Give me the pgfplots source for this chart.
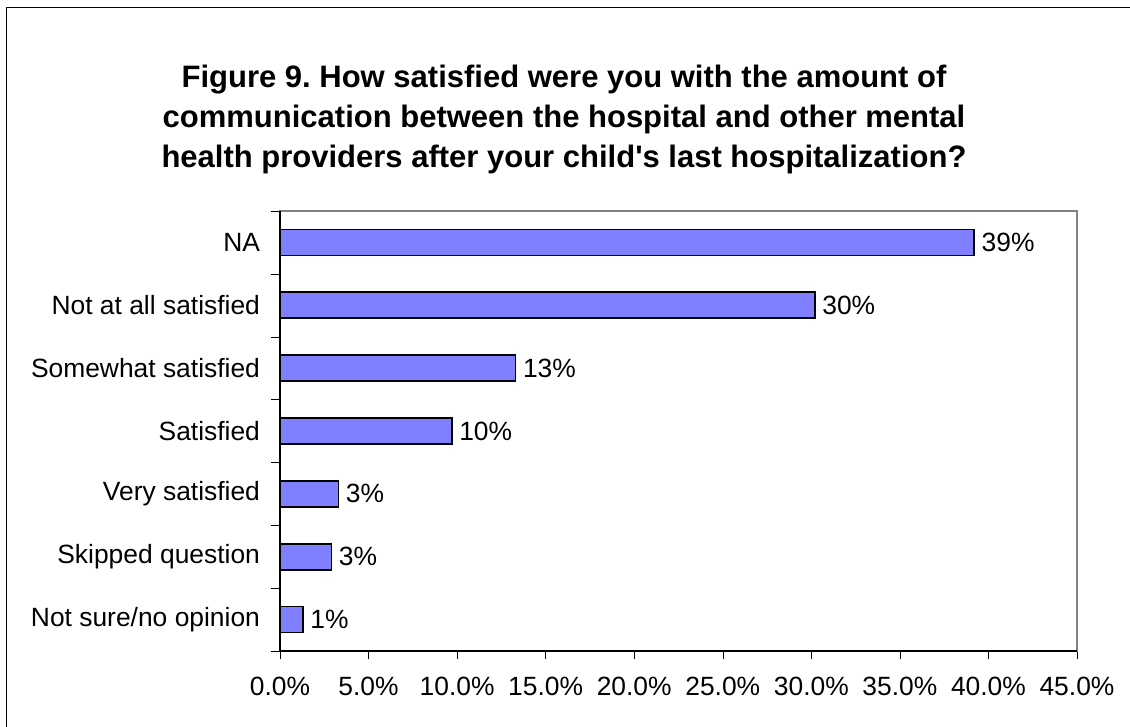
\documentclass[border=0pt]{standalone}
\usepackage{pgfplots}
\pgfplotsset{compat=1.18}
\usepackage{fontspec}
\setmainfont{Liberation Sans}
\definecolor{barblue}{HTML}{8080FF}

\begin{document}
\begin{tikzpicture}
% picture size: 1130 x 727 px at 0.5pt per px
\useasboundingbox (0pt,0pt) rectangle (565pt,-363.5pt);
\draw[line width=0.8pt] (3.3pt,-600pt) -- (3.3pt,-3.8pt) -- (600pt,-3.8pt);

\node[font=\fontsize{15.5}{20}\selectfont\bfseries, align=center] at (282pt,-59.5pt)
  {\frenchspacing Figure 9. How satisfied were you with the amount of\\
   communication between the hospital and other mental\\
   health providers after your child\textquotesingle s last hospitalization?};

\begin{axis}[
  at={(140pt,-325.5pt)}, anchor=south west,
  scale only axis, width=398.5pt, height=220pt,
  xbar, bar width=13pt,
  xmin=0, xmax=45, ymin=-0.5, ymax=6.5,
  xtick={0,5,...,45},
  xticklabel={\pgfmathprintnumber[fixed,fixed zerofill,precision=1]{\tick}\%},
  ytick={0,...,6},
  yticklabels={Not sure/no opinion, Skipped question, Very satisfied, Satisfied,
    Somewhat satisfied, Not at all satisfied, NA},
  minor ytick={-0.5,0.5,...,6.5},
  tick align=outside, tick pos=left,
  major tick length=4pt, minor tick length=4.5pt,
  y tick style={draw=none}, minor y tick style={draw=black},
  x tick style={black},
  ticklabel style={font=\fontsize{13.2}{15}\selectfont},
  xticklabel style={yshift=-5.5pt},
  yticklabel style={xshift=-2.5pt},
  /pgf/number format/assume math mode=true,
  axis line style={draw=gray, line width=0.8pt},
  clip=false,
  nodes near coords={\pgfmathprintnumber[fixed,precision=0]{\pgfplotspointmeta}\%},
  nodes near coords style={font=\fontsize{13.2}{15}\selectfont, black},
]
\addplot[fill=barblue, draw=black, line width=0.8pt] coordinates {
(1.3,0) (2.9,1) (3.3,2) (9.7,3) (13.3,4) (30.2,5) (39.2,6)
};
\draw[black, line width=0.8pt] (axis cs:0,6.5) -- (axis cs:0,-0.5) -- (axis cs:45,-0.5);
\end{axis}
\end{tikzpicture}
\end{document}
